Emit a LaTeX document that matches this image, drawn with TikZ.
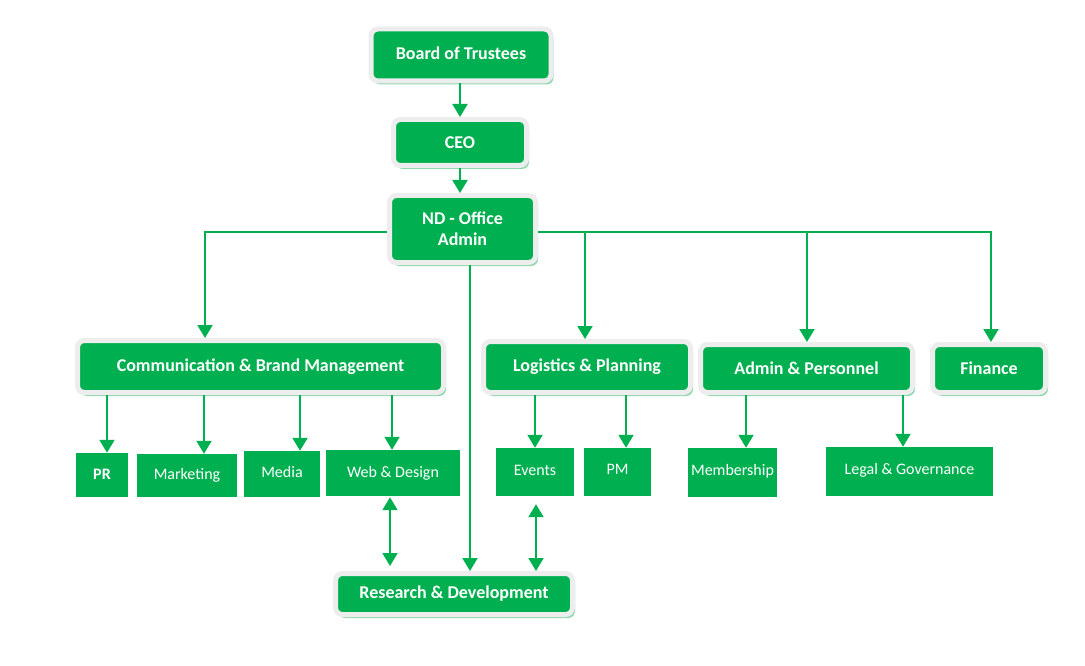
\documentclass[tikz,border=0pt]{standalone}
\usepackage{fontspec}
\setmainfont{Carlito}
\usetikzlibrary{arrows.meta,shadows}
\definecolor{gr}{HTML}{00B050}
\definecolor{shd}{HTML}{8ED8AE}
\definecolor{rim}{HTML}{EDEDED}
\tikzset{
  bigbox/.style={fill=gr,draw=rim,line width=5pt,rounded corners=7pt,text=white,
    font=\fontsize{18}{22}\selectfont\bfseries,align=center,inner sep=0pt,
    drop shadow={shadow xshift=2.5pt,shadow yshift=-3.5pt,fill=shd,opacity=1}},
  smallbox/.style={fill=gr,draw=none,text=white,font=\fontsize{16}{19}\selectfont,inner sep=0pt},
  arr/.style={draw=gr,line width=2pt,-{Triangle[width=15pt,length=13pt]}},
  darr/.style={draw=gr,line width=2pt,{Triangle[width=15pt,length=13pt]}-{Triangle[width=15pt,length=13pt]}}
}
\begin{document}
\begin{tikzpicture}[x=1pt,y=-1pt]
\useasboundingbox[fill=white] (0,0) rectangle (1085,666);
% big boxes
\node[bigbox,minimum width=180pt,minimum height=52pt] (board) at (461,55) {\raisebox{3pt}{Board of Trustees}};
\node[bigbox,minimum width=133pt,minimum height=46pt] (ceo) at (460,142.5) {CEO};
\node[bigbox,minimum width=146pt,minimum height=67pt,font=\fontsize{18}{21}\selectfont\bfseries] (nd) at (462.5,229) {ND - Office\\Admin};
\node[bigbox,minimum width=366pt,minimum height=52pt] (comm) at (260.5,366.5) {\raisebox{3pt}{Communication \& Brand Management}};
\node[bigbox,minimum width=207pt,minimum height=51pt] (log) at (587,367) {\raisebox{3pt}{Logistics \& Planning}};
\node[bigbox,minimum width=212pt,minimum height=48pt] (adm) at (806.5,368.5) {Admin \& Personnel};
\node[bigbox,minimum width=113pt,minimum height=48pt] (fin) at (989,368.5) {Finance};
\node[bigbox,minimum width=237pt,minimum height=41pt] (rd) at (454,594) {Research \& Development};
% small boxes
\node[smallbox,minimum width=52pt,minimum height=44pt,font=\fontsize{16}{19}\selectfont\bfseries] (pr) at (102,475) {\raisebox{2pt}{PR}};
\node[smallbox,minimum width=100pt,minimum height=43pt] (mkt) at (187,475.5) {Marketing};
\node[smallbox,minimum width=76pt,minimum height=46pt] (media) at (282,474) {\raisebox{4pt}{Media}};
\node[smallbox,minimum width=134pt,minimum height=46pt] (web) at (393,473) {\raisebox{3pt}{Web \& Design}};
\node[smallbox,minimum width=78pt,minimum height=48pt] (events) at (535,472) {\raisebox{3pt}{Events}};
\node[smallbox,minimum width=67pt,minimum height=48pt] (pm) at (617.5,472) {\raisebox{5pt}{PM}};
\node[smallbox,minimum width=89pt,minimum height=49pt] (memb) at (732.5,472.5) {\raisebox{5pt}{Membership}};
\node[smallbox,minimum width=167pt,minimum height=49pt] (legal) at (909.5,471.5) {\raisebox{6pt}{Legal \& Governance}};
% guide coordinates
\coordinate (xa) at (205,0);
\coordinate (xb) at (585,0);
\coordinate (xc) at (807,0);
\coordinate (xd) at (991,0);
\coordinate (xe) at (470,0);
\coordinate (x1) at (107,0);
\coordinate (x2) at (204,0);
\coordinate (x3) at (300,0);
\coordinate (x4) at (392,0);
\coordinate (x5) at (535,0);
\coordinate (x6) at (626,0);
\coordinate (x7) at (746,0);
\coordinate (x8) at (903,0);
\coordinate (x9) at (390,0);
\coordinate (x10) at (536,0);
% connectors
\draw[arr] (ceo.north |- board.south) -- (ceo.north);
\draw[arr] (ceo.south) -- (ceo.south |- nd.north);
\draw[arr] ([yshift=-3pt]nd.west) -| (xa |- comm.north);
\draw[arr] ([yshift=-3pt]nd.east) -| (xb |- log.north);
\draw[arr] ([yshift=-3pt]nd.east) -| (xc |- adm.north);
\draw[arr] ([yshift=-3pt]nd.east) -| (xd |- fin.north);
\draw[arr] (xe |- nd.south) -- (xe |- rd.north);
\draw[arr] (x1 |- comm.south) -- (x1 |- pr.north);
\draw[arr] (x2 |- comm.south) -- (x2 |- mkt.north);
\draw[arr] (x3 |- comm.south) -- (x3 |- media.north);
\draw[arr] (x4 |- comm.south) -- (x4 |- web.north);
\draw[arr] (x5 |- log.south) -- (x5 |- events.north);
\draw[arr] (x6 |- log.south) -- (x6 |- pm.north);
\draw[arr] (x7 |- adm.south) -- (x7 |- memb.north);
\draw[arr] (x8 |- adm.south) -- (x8 |- legal.north);
\draw[darr,shorten <=1pt,shorten >=5pt] (x9 |- web.south) -- (x9 |- rd.north);
\draw[darr,shorten <=8pt,shorten >=0pt] (x10 |- events.south) -- (x10 |- rd.north);
\end{tikzpicture}
\end{document}
